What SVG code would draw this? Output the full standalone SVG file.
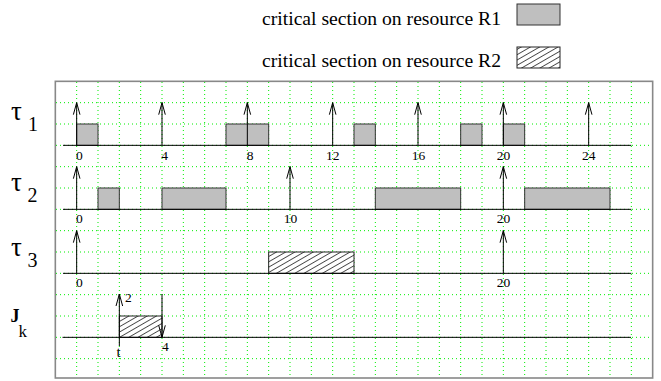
<svg xmlns="http://www.w3.org/2000/svg" width="661" height="381" viewBox="0 0 661 381">
  <style>
    .grid { stroke: #00ee00; stroke-width: 1; stroke-dasharray: 1 3; fill: none; }
    .frame { fill: #ffffff; stroke: #888888; stroke-width: 1.6; }
    .axis { stroke: #000000; stroke-width: 1; fill: none; }
    .r1 { fill: #bfbfbf; stroke: #333333; stroke-width: 1; }
    .r2 { fill: url(#hatch); stroke: #222222; stroke-width: 1; }
    .arr { stroke: #000000; stroke-width: 1; fill: none; marker-end: url(#head); }
    text { font-family: 'Liberation Serif', 'DejaVu Serif', 'Times New Roman', serif; fill: #000000; }
    .tick { font-size: 13.5px; }
    .lbl { font-size: 20px; }
    .tau { font-size: 27px; }
    .leg { font-size: 18px; }
  </style>
  <defs>
    <pattern id="hatch" patternUnits="userSpaceOnUse" width="10" height="4.6" patternTransform="rotate(-30)">
      <rect width="10" height="4.6" fill="#ffffff"/>
      <line x1="0" y1="2.3" x2="10" y2="2.3" stroke="#222222" stroke-width="0.8"/>
    </pattern>
    <marker id="head" markerUnits="userSpaceOnUse" markerWidth="16" markerHeight="10" refX="0" refY="0" viewBox="-13 -5 16 10" orient="auto" overflow="visible">
      <path d="M-12,-3.3 L0,0 L-12,3.3" fill="none" stroke="#000" stroke-width="1"/>
    </marker>
  </defs>

  <rect width="661" height="381" fill="#ffffff"/>

  <!-- legend -->
  <g id="legend">
    <text class="leg" x="262" y="25" textLength="239" lengthAdjust="spacingAndGlyphs">critical section on resource R1</text>
    <rect class="r1" x="517" y="4" width="43" height="21"/>
    <text class="leg" x="262" y="67" textLength="239" lengthAdjust="spacingAndGlyphs">critical section on resource R2</text>
    <rect class="r2" x="517" y="47" width="43" height="21"/>
  </g>

  <!-- chart frame and dotted grid (one cell = one time unit) -->
  <g id="frame">
    <rect class="frame" x="55.33" y="81.33" width="597.33" height="296.67"/>
    <path class="grid" d="
      M76.67,82 V378 M98,82 V378 M119.33,82 V378 M140.67,82 V378 M162,82 V378
      M183.33,82 V378 M204.67,82 V378 M226,82 V378 M247.33,82 V378 M268.67,82 V378
      M290,82 V378 M311.33,82 V378 M332.67,82 V378 M354,82 V378 M375.33,82 V378
      M396.67,82 V378 M418,82 V378 M439.33,82 V378 M460.67,82 V378 M482,82 V378
      M503.33,82 V378 M524.67,82 V378 M546,82 V378 M567.33,82 V378 M588.67,82 V378
      M610,82 V378 M631.33,82 V378
      M56,102.67 H652 M56,124 H652 M56,145.33 H652 M56,166.67 H652 M56,188 H652
      M56,209.33 H652 M56,230.67 H652 M56,252 H652 M56,273.33 H652 M56,294.67 H652
      M56,316 H652 M56,337.33 H652 M56,358.67 H652"/>
  </g>

  <!-- task tau1 -->
  <g id="tau1">
    <text class="tau" x="11" y="120">τ</text>
    <text class="lbl" x="28" y="131">1</text>
    <rect class="r1" x="76.67" y="124" width="21.33" height="21.33"/>
    <rect class="r1" x="226" y="124" width="42.67" height="21.33"/>
    <rect class="r1" x="354" y="124" width="21.33" height="21.33"/>
    <rect class="r1" x="460.67" y="124" width="21.33" height="21.33"/>
    <rect class="r1" x="503.33" y="124" width="21.33" height="21.33"/>
    <line class="axis" x1="63" y1="145.33" x2="631.33" y2="145.33"/>
    <text class="tick" x="76" y="160">0</text>
    <text class="tick" x="161.3" y="160">4</text>
    <text class="tick" x="246.7" y="160">8</text>
    <text class="tick" x="332.67" y="160" text-anchor="middle">12</text>
    <text class="tick" x="418.5" y="160" text-anchor="middle">16</text>
    <text class="tick" x="503.5" y="160" text-anchor="middle">20</text>
    <text class="tick" x="588.7" y="160" text-anchor="middle">24</text>
  </g>

  <!-- task tau2 -->
  <g id="tau2">
    <text class="tau" x="11" y="191">τ</text>
    <text class="lbl" x="27.5" y="202">2</text>
    <rect class="r1" x="98" y="188" width="21.33" height="21.33"/>
    <rect class="r1" x="162" y="188" width="64" height="21.33"/>
    <rect class="r1" x="375.33" y="188" width="85.33" height="21.33"/>
    <rect class="r1" x="524.67" y="188" width="85.33" height="21.33"/>
    <line class="axis" x1="63" y1="209.33" x2="631.33" y2="209.33"/>
    <text class="tick" x="76" y="223">0</text>
    <text class="tick" x="290.5" y="223" text-anchor="middle">10</text>
    <text class="tick" x="503.5" y="223" text-anchor="middle">20</text>
  </g>

  <!-- task tau3 -->
  <g id="tau3">
    <text class="tau" x="11" y="255.5">τ</text>
    <text class="lbl" x="27.5" y="267">3</text>
    <rect class="r2" x="268.67" y="252" width="85.33" height="21.33"/>
    <line class="axis" x1="63" y1="273.33" x2="631.33" y2="273.33"/>
    <text class="tick" x="76" y="287">0</text>
    <text class="tick" x="503.5" y="287" text-anchor="middle">20</text>
  </g>

  <!-- job Jk -->
  <g id="jk">
    <text x="10.5" y="322" font-size="18" font-weight="bold">J</text>
    <text x="18.5" y="336.5" font-size="17">k</text>
    <rect class="r2" x="119.33" y="316" width="42.67" height="21.33"/>
    <line class="axis" x1="62.5" y1="337.33" x2="631" y2="337.33"/>
    <text class="tick" x="125" y="301.5">2</text>
    <text x="116.5" y="357" font-size="15">t</text>
    <text class="tick" x="162" y="350.5">4</text>
  </g>

  <!-- release / deadline arrows -->
  <g id="connectors">
    <line class="arr" x1="76.67" y1="145.33" x2="76.67" y2="102.67"/>
    <line class="arr" x1="162" y1="145.33" x2="162" y2="102.67"/>
    <line class="arr" x1="247.33" y1="145.33" x2="247.33" y2="102.67"/>
    <line class="arr" x1="332.67" y1="145.33" x2="332.67" y2="102.67"/>
    <line class="arr" x1="418" y1="145.33" x2="418" y2="102.67"/>
    <line class="arr" x1="503.33" y1="145.33" x2="503.33" y2="102.67"/>
    <line class="arr" x1="588.67" y1="145.33" x2="588.67" y2="102.67"/>

    <line class="arr" x1="76.67" y1="209.33" x2="76.67" y2="166.67"/>
    <line class="arr" x1="290" y1="209.33" x2="290" y2="166.67"/>
    <line class="arr" x1="503.33" y1="209.33" x2="503.33" y2="166.67"/>

    <line class="arr" x1="76.67" y1="273.33" x2="76.67" y2="230.67"/>
    <line class="arr" x1="503.33" y1="273.33" x2="503.33" y2="230.67"/>

    <line class="arr" x1="119.33" y1="346" x2="119.33" y2="294"/>
    <line class="arr" x1="162" y1="294" x2="162" y2="337.33"/>
  </g>
</svg>
